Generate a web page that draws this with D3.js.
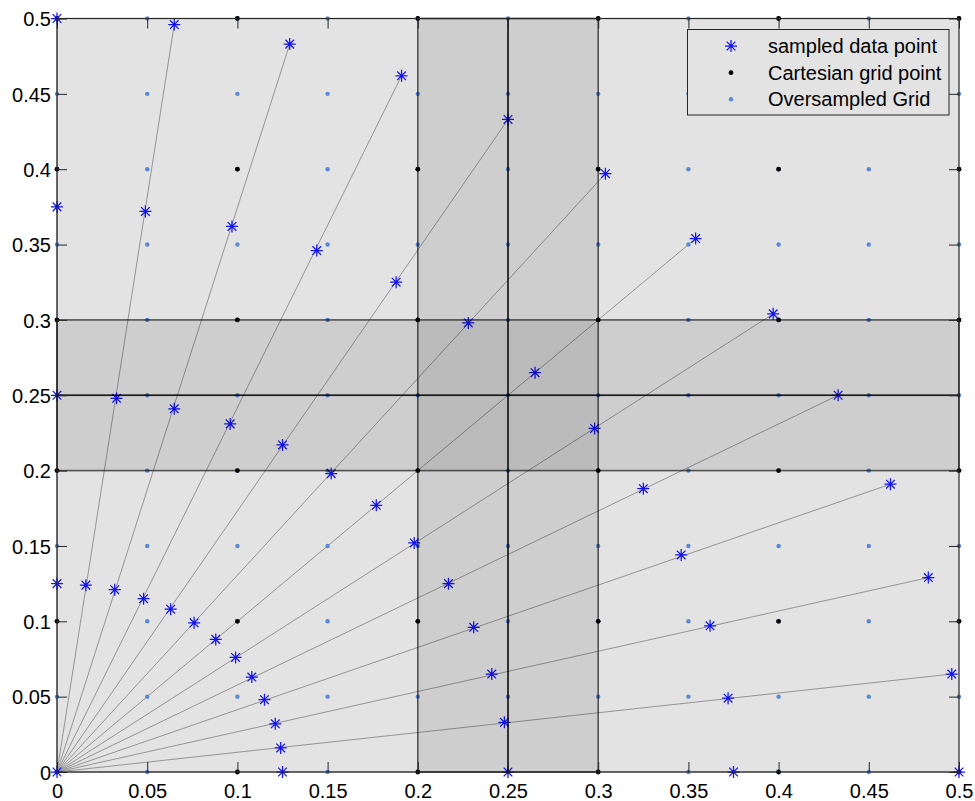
<!DOCTYPE html>
<html><head><meta charset="utf-8">
<script src="https://cdn.jsdelivr.net/npm/d3@7"></script>
<style>body{margin:0;background:#fff}svg{display:block}</style>
</head><body>
<svg id="chart" width="975" height="801"></svg>
<script>
// ---- data ----
const tickValues = [0, 0.05, 0.1, 0.15, 0.2, 0.25, 0.3, 0.35, 0.4, 0.45, 0.5];
const cartesianGrid = [0, 0.1, 0.2, 0.3, 0.4, 0.5];
const oversampledGrid = [0, 0.05, 0.1, 0.15, 0.2, 0.25, 0.3, 0.35, 0.4, 0.45, 0.5];

const sampleX = [0,
  0, 0, 0, 0,
  0.016, 0.033, 0.049, 0.065,
  0.032, 0.065, 0.097, 0.129,
  0.048, 0.096, 0.144, 0.191,
  0.063, 0.125, 0.188, 0.250,
  0.076, 0.152, 0.228, 0.304,
  0.088, 0.177, 0.265, 0.354,
  0.099, 0.198, 0.298, 0.397,
  0.108, 0.217, 0.325, 0.433,
  0.115, 0.231, 0.346, 0.462,
  0.121, 0.241, 0.362, 0.483,
  0.124, 0.248, 0.372, 0.496,
  0.125, 0.250, 0.375, 0.500];
const sampleY = [0,
  0.125, 0.250, 0.375, 0.500,
  0.124, 0.248, 0.372, 0.496,
  0.121, 0.241, 0.362, 0.483,
  0.115, 0.231, 0.346, 0.462,
  0.108, 0.217, 0.325, 0.433,
  0.099, 0.198, 0.298, 0.397,
  0.088, 0.177, 0.265, 0.354,
  0.076, 0.152, 0.228, 0.304,
  0.063, 0.125, 0.188, 0.250,
  0.048, 0.096, 0.144, 0.191,
  0.032, 0.065, 0.097, 0.129,
  0.016, 0.033, 0.049, 0.065,
  0, 0, 0, 0];

// radial spokes from origin to outer sample
const spokeEndX = [0, 0.065, 0.129, 0.191, 0.250, 0.304, 0.354, 0.397, 0.433, 0.462, 0.483, 0.496, 0.500];
const spokeEndY = [0.500, 0.496, 0.483, 0.462, 0.433, 0.397, 0.354, 0.304, 0.250, 0.191, 0.129, 0.065, 0];

// shaded bands (two halves each)
const bandLo = [0.2, 0.25];
const bandHi = [0.25, 0.3];

const legendLabels = ["sampled data point", "Cartesian grid point", "Oversampled Grid"];

// ---- drawing ----
const svg = d3.select("#chart");
const L = 57, R = 959, T = 18.5, B = 772;
const x = d3.scaleLinear().domain([0, 0.5]).range([L, R]);
const y = d3.scaleLinear().domain([0, 0.5]).range([B, T]);
const FONT = "'Liberation Sans', Arial, Helvetica, sans-serif";
const BLUE = "#1414f0", OVER = "#5a88d6";

svg.append("rect").attr("x", L).attr("y", T).attr("width", R - L).attr("height", B - T).attr("fill", "#e3e3e3");

const plot = svg.append("g");

// spokes
plot.selectAll("line.spoke").data(spokeEndX.map((v, i) => [v, spokeEndY[i]])).enter()
  .append("line").attr("class", "spoke")
  .attr("x1", x(0)).attr("y1", y(0))
  .attr("x2", d => x(d[0])).attr("y2", d => y(d[1]))
  .attr("stroke", "#949494").attr("stroke-width", 1);

// oversampled grid
const overPts = [];
oversampledGrid.forEach(a => oversampledGrid.forEach(b => overPts.push([a, b])));
plot.selectAll("circle.over").data(overPts).enter().append("circle")
  .attr("cx", d => x(d[0])).attr("cy", d => y(d[1])).attr("r", 2.2).attr("fill", OVER);

// cartesian grid
const cartPts = [];
cartesianGrid.forEach(a => cartesianGrid.forEach(b => cartPts.push([a, b])));
plot.selectAll("circle.cart").data(cartPts).enter().append("circle")
  .attr("cx", d => x(d[0])).attr("cy", d => y(d[1])).attr("r", 2.4).attr("fill", "#000");

// star marker
function star(g, cx, cy, s) {
  const d = s * 0.72;
  const p = `M${cx - s},${cy}L${cx + s},${cy}M${cx},${cy - s}L${cx},${cy + s}` +
            `M${cx - d},${cy - d}L${cx + d},${cy + d}M${cx - d},${cy + d}L${cx + d},${cy - d}`;
  g.append("path").attr("d", p).attr("stroke", BLUE).attr("stroke-width", 1.25).attr("fill", "none");
}
const starG = plot.append("g");
sampleX.forEach((v, i) => star(starG, x(v), y(sampleY[i]), 6));

// bands (semi-transparent patches)
const bands = plot.append("g");
bandLo.forEach((lo, i) => {
  bands.append("rect").attr("x", x(lo)).attr("y", T).attr("width", x(bandHi[i]) - x(lo)).attr("height", B - T)
    .attr("fill", "#000").attr("fill-opacity", 0.09).attr("stroke", "#000").attr("stroke-opacity", 0.62).attr("stroke-width", 1.6);
});
bandLo.forEach((lo, i) => {
  bands.append("rect").attr("x", L).attr("y", y(bandHi[i])).attr("width", R - L).attr("height", y(lo) - y(bandHi[i]))
    .attr("fill", "#000").attr("fill-opacity", 0.09).attr("stroke", "#000").attr("stroke-opacity", 0.62).attr("stroke-width", 1.6);
});

// axes
function styleAxis(g, hideLabels) {
  g.select(".domain").remove();
  g.selectAll(".tick line").attr("stroke", "#262626").attr("stroke-width", 1);
  g.selectAll(".tick text").attr("fill", "#000").style("font-family", FONT).style("font-size", "20px");
  if (hideLabels) g.selectAll(".tick text").remove();
}
const fmt = d => String(d);
svg.append("g").attr("transform", `translate(0,${B})`)
  .call(d3.axisBottom(x).tickValues(tickValues).tickFormat(fmt).tickSizeInner(-10).tickSizeOuter(0).tickPadding(12))
  .call(g => styleAxis(g, false))
  .call(g => g.selectAll(".tick text").attr("dy", "0.71em"));
svg.append("g").attr("transform", `translate(0,${T})`)
  .call(d3.axisTop(x).tickValues(tickValues).tickSizeInner(-10).tickSizeOuter(0))
  .call(g => styleAxis(g, true));
svg.append("g").attr("transform", `translate(${L},0)`)
  .call(d3.axisLeft(y).tickValues(tickValues).tickFormat(fmt).tickSizeInner(-10).tickSizeOuter(0).tickPadding(6))
  .call(g => styleAxis(g, false))
  .call(g => g.selectAll(".tick text").attr("dy", "0.36em"));
svg.append("g").attr("transform", `translate(${R},0)`)
  .call(d3.axisRight(y).tickValues(tickValues).tickSizeInner(-10).tickSizeOuter(0))
  .call(g => styleAxis(g, true));

svg.append("rect").attr("x", L).attr("y", T).attr("width", R - L).attr("height", B - T)
  .attr("fill", "none").attr("stroke", "#262626").attr("stroke-width", 1.2);

// legend
const lg = svg.append("g");
lg.append("rect").attr("x", 687.5).attr("y", 29.5).attr("width", 261.5).attr("height", 85.5)
  .attr("fill", "#e3e3e3").attr("stroke", "#262626").attr("stroke-width", 1);
const rowY = [46, 72.7, 99.3];
star(lg, 731, rowY[0], 6);
lg.append("circle").attr("cx", 731).attr("cy", rowY[1]).attr("r", 2.4).attr("fill", "#000");
lg.append("circle").attr("cx", 731).attr("cy", rowY[2]).attr("r", 2.2).attr("fill", OVER);
lg.selectAll("text").data(legendLabels).enter().append("text")
  .attr("x", 768).attr("y", (d, i) => rowY[i]).attr("dy", "0.35em")
  .style("font-family", FONT).style("font-size", "20px").attr("fill", "#000")
  .text(d => d);
</script>
</body></html>
